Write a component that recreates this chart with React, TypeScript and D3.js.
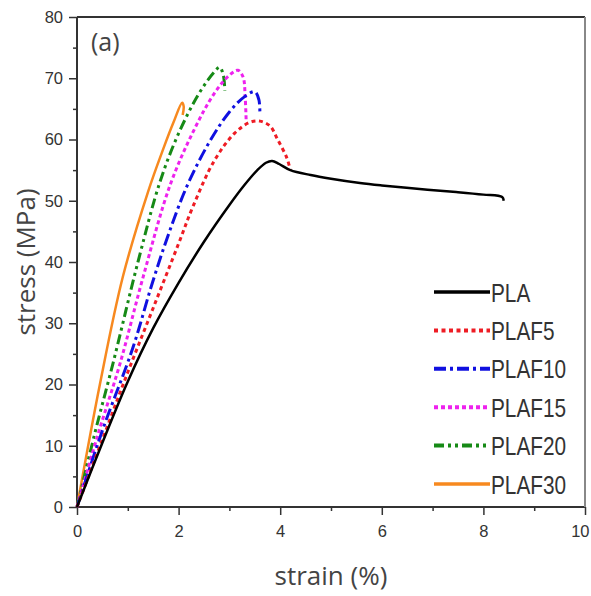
import * as d3 from "d3";
import { useEffect, useRef } from "react";

// strain (%) / stress (MPa)
const plaStrain = [0, 0.5, 1.0, 1.5, 2.0, 2.5, 3.0, 3.3, 3.55, 3.72, 3.84, 3.98, 4.2, 4.6, 5.0, 5.57, 6.0, 6.9, 7.5, 8.0, 8.37, 8.4];
const plaStress = [0, 10.5, 20.5, 29.2, 36.6, 43.3, 49.3, 52.6, 55.0, 56.2, 56.5, 56.0, 55.0, 54.2, 53.6, 52.9, 52.5, 51.8, 51.4, 51.0, 50.6, 50.0];

const plaf5Strain = [0, 0.5, 1.0, 1.5, 2.0, 2.28, 2.7, 3.1, 3.4, 3.6, 3.8, 3.95, 4.13, 4.2];
const plaf5Stress = [0, 11, 22, 32.5, 43, 49, 56.5, 61, 62.8, 63, 62.2, 60, 57, 55];

const plaf10Strain = [0, 0.5, 1.1, 1.48, 1.8, 2.16, 2.6, 3.0, 3.3, 3.5, 3.58, 3.6];
const plaf10Stress = [0, 12.5, 26, 36.5, 44.5, 52.3, 59.5, 64.5, 67, 67.8, 66.5, 64.3];

const plaf15Strain = [0, 0.4, 0.85, 1.3, 1.83, 2.3, 2.7, 3.0, 3.17, 3.27, 3.31, 3.33];
const plaf15Stress = [0, 11.5, 23.5, 37.5, 52.5, 61.5, 67.5, 70.5, 71.3, 70.2, 67, 63];

const plaf20Strain = [0, 0.35, 0.71, 1.2, 1.63, 2.0, 2.4, 2.7, 2.81, 2.88, 2.91];
const plaf20Stress = [0, 12, 23.5, 40, 53, 61, 67.5, 71, 71.8, 70.5, 68];

const plaf30Strain = [0, 0.45, 0.9, 1.4, 1.7, 1.9, 2.07, 2.1, 2.08];
const plaf30Stress = [0, 20, 37.5, 51.5, 58.5, 62.8, 66, 65.4, 64];

const seriesNames = ["PLA", "PLAF5", "PLAF10", "PLAF15", "PLAF20", "PLAF30"];
const seriesColors = ["#000000", "#ee1c24", "#1010e0", "#ee22ee", "#168a16", "#f7891f"];
const seriesDash = [null, "4,3.5", "12,4,3,4", "4,3", "10,4,3,4,3,4", null];
const seriesStrain = [plaStrain, plaf5Strain, plaf10Strain, plaf15Strain, plaf20Strain, plaf30Strain];
const seriesStress = [plaStress, plaf5Stress, plaf10Stress, plaf15Stress, plaf20Stress, plaf30Stress];

const xTicks = [0, 2, 4, 6, 8, 10];
const yTicks = [0, 10, 20, 30, 40, 50, 60, 70, 80];

const App = () => {
    const svgRef = useRef(null);
    const width = 591;
    const height = 596;

    useEffect(() => {
        const margin = { top: 17, right: 6, bottom: 89, left: 77 };
        const innerWidth = width - margin.left - margin.right;
        const innerHeight = height - margin.top - margin.bottom;

        const svg = d3.select(svgRef.current);
        svg.selectAll("*").remove();

        const g = svg
            .append("g")
            .attr("transform", `translate(${margin.left},${margin.top})`);

        const xScale = d3.scaleLinear().domain([0, 10]).range([0, innerWidth]);
        const yScale = d3.scaleLinear().domain([0, 80]).range([innerHeight, 0]);

        const tickFont = "'Liberation Sans', Arial, sans-serif";

        // minor ticks first, then the major axes on top
        const xMinor = d3.axisBottom(xScale).tickValues(d3.range(1, 10, 2)).tickSize(4).tickFormat(() => "");
        const yMinor = d3.axisLeft(yScale).tickValues(d3.range(5, 80, 10)).tickSize(4).tickFormat(() => "");
        g.append("g").attr("transform", `translate(0,${innerHeight})`).call(xMinor);
        g.append("g").call(yMinor);

        const xAxis = d3.axisBottom(xScale).tickValues(xTicks).tickSize(8).tickPadding(14).tickFormat(d3.format("d"));
        const yAxis = d3.axisLeft(yScale).tickValues(yTicks).tickSize(8).tickPadding(6).tickFormat(d3.format("d"));
        g.append("g").attr("class", "xaxis").attr("transform", `translate(0,${innerHeight})`).call(xAxis);
        g.append("g").attr("class", "yaxis").call(yAxis);

        g.selectAll(".domain").remove();
        g.selectAll(".tick line").attr("stroke", "#333").attr("stroke-width", 1.5);
        g.selectAll(".tick text")
            .attr("fill", "#333")
            .style("font-family", tickFont)
            .style("font-size", "16.5px");
        g.selectAll(".xaxis .tick text").attr("dy", "0.5em");
        // keep the last label inside the picture, as in the figure
        g.selectAll(".xaxis .tick text").filter((d) => d === 10).attr("text-anchor", "end").attr("x", 4);

        // frame
        g.append("line").attr("x1", 0).attr("x2", innerWidth).attr("y1", innerHeight).attr("y2", innerHeight)
            .attr("stroke", "#333").attr("stroke-width", 2);
        g.append("line").attr("x1", 0).attr("x2", 0).attr("y1", 0).attr("y2", innerHeight)
            .attr("stroke", "#333").attr("stroke-width", 2);
        g.append("line").attr("x1", 0).attr("x2", innerWidth).attr("y1", 0).attr("y2", 0)
            .attr("stroke", "#333").attr("stroke-width", 2);
        g.append("line").attr("x1", innerWidth).attr("x2", innerWidth).attr("y1", 0).attr("y2", innerHeight)
            .attr("stroke", "#888").attr("stroke-width", 2);

        const lineGenerator = d3
            .line()
            .x((d) => xScale(d[0]))
            .y((d) => yScale(d[1]))
            .curve(d3.curveCatmullRom.alpha(0.5));

        // draw PLA last so it stays on top like in the figure
        const order = [5, 4, 3, 2, 1, 0];
        order.forEach((i) => {
            const pts = seriesStrain[i].map((x, k) => [x, seriesStress[i][k]]);
            const p = g.append("path")
                .datum(pts)
                .attr("fill", "none")
                .attr("stroke", seriesColors[i])
                .attr("stroke-width", seriesDash[i] ? 3 : 2.5)
                .attr("stroke-linejoin", "round")
                .attr("d", lineGenerator);
            if (seriesDash[i]) p.attr("stroke-dasharray", seriesDash[i]);
        });

        // legend
        const legend = svg.append("g").attr("transform", "translate(434,292)");
        seriesNames.forEach((name, i) => {
            const row = legend.append("g").attr("transform", `translate(0,${i * 38.4})`);
            const l = row.append("line")
                .attr("x1", 0).attr("x2", 56).attr("y1", 0).attr("y2", 0)
                .attr("stroke", seriesColors[i])
                .attr("stroke-width", seriesDash[i] ? 4 : 3.5);
            if (seriesDash[i]) l.attr("stroke-dasharray", seriesDash[i]);
            // condensed look: squeeze a regular sans horizontally
            row.append("text")
                .attr("transform", "translate(57,9.5) scale(0.8,1)")
                .attr("fill", "#333")
                .style("font-family", "'Liberation Sans', Arial, sans-serif")
                .style("font-size", "26px")
                .text(name);
        });

        // panel label
        svg.append("text")
            .attr("x", 91)
            .attr("y", 51)
            .attr("fill", "#444")
            .style("font-family", "'Open Sans', sans-serif")
            .style("font-size", "25px")
            .text("(a)");

        // axis titles
        svg.append("text")
            .attr("x", margin.left + innerWidth / 2)
            .attr("y", 585)
            .attr("text-anchor", "middle")
            .attr("fill", "#444")
            .style("font-family", "'Open Sans', sans-serif")
            .style("font-size", "26px")
            .text("strain (%)");
        svg.append("text")
            .attr("transform", `translate(35,${margin.top + innerHeight / 2}) rotate(-90)`)
            .attr("text-anchor", "middle")
            .attr("fill", "#444")
            .style("font-family", "'Open Sans', sans-serif")
            .style("font-size", "26px")
            .text("stress (MPa)");
    }, []);

    return (
        <svg
            ref={svgRef}
            width={width}
            height={height}
            style={{ position: "absolute", left: 0, top: 0, background: "#fff" }}
        />
    );
};

export default App;
